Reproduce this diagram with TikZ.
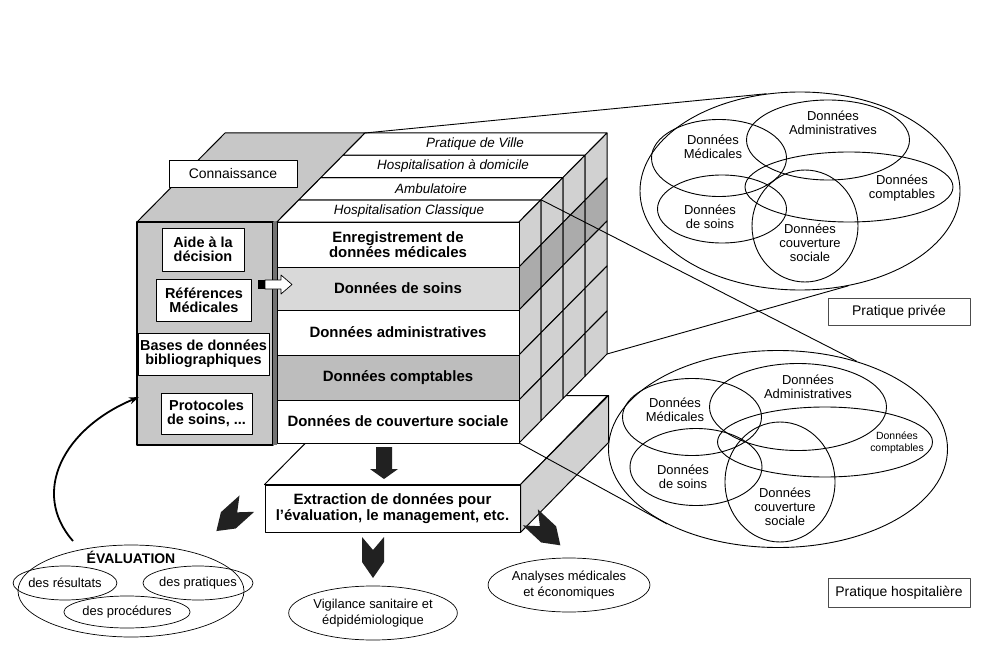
\documentclass[tikz,border=0pt]{standalone}
\usepackage{fontspec}
\setmainfont{Liberation Sans}
\usetikzlibrary{shapes.geometric,arrows.meta}

\definecolor{panelgray}{gray}{0.78}
\definecolor{soinsgray}{gray}{0.85}
\definecolor{comptgray}{gray}{0.74}
\definecolor{sidegray}{gray}{0.82}
\definecolor{sidedark}{gray}{0.67}
\definecolor{arrowdark}{gray}{0.13}

\tikzset{
  rowbox/.style={draw,line width=1bp,minimum width=242bp,inner sep=0pt,align=center,
    font=\fontsize{15}{15.5}\selectfont\bfseries},
  knowbox/.style={draw,line width=0.8bp,fill=white,inner sep=0pt,align=center,
    font=\fontsize{14.5}{14.5}\selectfont\bfseries},
  slabel/.style={inner sep=0pt,font=\fontsize{13.5}{14}\selectfont\itshape},
  venn/.style={draw,ellipse,inner sep=0pt,line width=0.9bp},
  venntxt/.style={inner sep=0pt,align=center,font=\fontsize{13}{14}\selectfont},
  tagbox/.style={draw=black!70,line width=0.8bp,fill=white,inner sep=0pt,font=\fontsize{14}{14}\selectfont},
  outcome/.style={draw,ellipse,inner sep=0pt,line width=0.7bp},
  outtxt/.style={inner sep=0pt,align=center,font=\fontsize{13}{16}\selectfont},
  chevron/.pic={\fill[arrowdark] (-11,-20) -- (0,-7) -- (11,-20) -- (11,5) -- (0,21) -- (-11,5) -- cycle;},
}

\begin{document}
\begin{tikzpicture}[x=1bp,y=-1bp,line join=round]
  % frame in pixels of the reference, y grows downwards
  \useasboundingbox (0,0) rectangle (1000,666);
  % helper grid: comment for final drawing
  % \draw[help lines,step=50] (0,0) grid (1000,666);

  % extraction slab (under the cube)
  \node[rowbox,fill=white,minimum width=255bp,minimum height=47bp] (extr) at (392.5,508.5)
    {Extraction de données pour\\l’évaluation, le management, etc.};
  \filldraw[fill=white,line width=1bp] (extr.north west) -- ++(88,-89) -- ++(255,0) -- (extr.north east) -- cycle;
  \filldraw[fill=sidegray,line width=1bp] (extr.north east) -- ++(88,-89) -- ++(0,47) -- (extr.south east) -- cycle;

  % knowledge panel
  \filldraw[fill=panelgray,line width=1bp] (137,222) -- (225,133) -- (365,133) -- (277,222) -- cycle;
  \node[draw,fill=panelgray,line width=1.2bp,minimum width=136bp,minimum height=223bp,inner sep=0pt] (panel) at (205,333.5) {};
  \fill[black!55] (273,222) rectangle (277,445);
  \node[tagbox,draw=black,minimum width=128bp,minimum height=27bp] (conn) at (233,173.5) {Connaissance};
  \node[knowbox,minimum width=82bp,minimum height=43bp] (aide) at (203,249.5) {Aide à la\\décision};
  \node[knowbox,minimum width=95bp,minimum height=42bp] (refs) at (204,300) {Références\\Médicales};
  \node[knowbox,minimum width=131bp,minimum height=42bp] (biblio) at (203.5,354) {Bases de données\\bibliographiques};
  \node[knowbox,minimum width=91bp,minimum height=41bp] (proto) at (206.5,413.5) {Protocoles\\de soins, ...};

  % slices on top of the cube
  \foreach \j/\slice in {0/Hospitalisation Classique,1/Ambulatoire,2/Hospitalisation à domicile,3/Pratique de Ville}{
    \filldraw[fill=white,line width=1bp] ({277+22*\j},{222-22.25*\j}) -- ({519+22*\j},{222-22.25*\j})
      -- ({541+22*\j},{222-22.25*(\j+1)}) -- ({299+22*\j},{222-22.25*(\j+1)}) -- cycle;
    \node[slabel] (slice\j) at ({409+22*\j},{222-22.25*(\j+0.5)}) {\slice};
  }

  % right face of the cube
  \foreach \yt/\yb/\tone in {222/267/sidegray,267/310/sidedark,310/355/sidegray,355/400/sidegray,400/443/sidegray}
    \foreach \i in {0,...,3}
      \filldraw[fill=\tone,line width=1bp] ({519+22*\i},{\yt-22.25*\i}) -- ({541+22*\i},{\yt-22.25*(\i+1)})
        -- ({541+22*\i},{\yb-22.25*(\i+1)}) -- ({519+22*\i},{\yb-22.25*\i}) -- cycle;

  % front face of the cube
  \node[rowbox,fill=white,minimum height=45bp] (enreg) at (398,244.5) {Enregistrement de\\données médicales};
  \node[rowbox,fill=soinsgray,minimum height=43bp] (soins) at (398,288.5) {Données de soins};
  \node[rowbox,fill=white,minimum height=45bp] (admin) at (398,332.5) {Données administratives};
  \node[rowbox,fill=comptgray,minimum height=45bp] (compt) at (398,377.5) {Données comptables};
  \node[rowbox,fill=white,minimum height=43bp] (couv) at (398,421.5) {Données de couverture sociale};

  \coordinate (backleft) at (365,133);
  \coordinate (slicecorner) at (541,199.75);
  \coordinate (backbottom) at (607,354);
  \coordinate (frontbottom) at (519,443);

  % link panel -> care data
  \fill (258,280) rectangle (265,289);
  \filldraw[fill=white,line width=0.7bp] (265,280) -- (281,280) -- (281,275) -- (292,284.5) -- (281,294) -- (281,289) -- (265,289) -- cycle;

  % block arrows
  \fill[arrowdark] (376,447) -- (392,447) -- (392,469) -- (398,469) -- (384,479) -- (370,469) -- (376,469) -- cycle;
  \pic[rotate=-48] at (232,517) {chevron};
  \pic at (373,557) {chevron};
  \pic[rotate=47] at (545,531) {chevron};

  % private practice
  \node[venn,minimum width=320bp,minimum height=198bp] (priv) at (800,191) {};
  \node[venn,minimum width=135bp,minimum height=77bp] (privmed) at (719,158) {};
  \node[venn,minimum width=163bp,minimum height=80bp] (privadm) at (828,140) {};
  \node[venn,minimum width=208bp,minimum height=70bp] (privcpt) at (849,187) {};
  \node[venn,minimum width=129bp,minimum height=68bp] (privsoin) at (722,209) {};
  \node[venn,minimum width=106bp,minimum height=112bp] (privcouv) at (805,226) {};
  \node[venntxt] (privmedtxt) at (713,147) {Données\\Médicales};
  \node[venntxt] (privadmtxt) at (833,123) {Données\\Administratives};
  \node[venntxt] (privcpttxt) at (902,188) {Données\\comptables};
  \node[venntxt] (privsointxt) at (710,217) {Données\\de soins};
  \node[venntxt] (privcouvtxt) at (810,243) {Données\\couverture\\sociale};
  \node[tagbox,minimum width=142bp,minimum height=27bp] (privtag) at (899,311.5) {Pratique privée};

  % hospital practice
  \node[venn,minimum width=339bp,minimum height=197bp] (hosp) at (778,449) {};
  \node[venn,minimum width=139bp,minimum height=77bp] (hospmed) at (692,417) {};
  \node[venn,minimum width=177bp,minimum height=87bp] (hospadm) at (798,407) {};
  \node[venn,minimum width=215bp,minimum height=70bp] (hospcpt) at (825,442) {};
  \node[venn,minimum width=132bp,minimum height=77bp] (hospsoin) at (696,467) {};
  \node[venn,minimum width=110bp,minimum height=120bp] (hospcouv) at (780,482) {};
  \node[venntxt] (hospmedtxt) at (675,410) {Données\\Médicales};
  \node[venntxt] (hospadmtxt) at (808,387) {Données\\Administratives};
  \node[venntxt,font=\fontsize{10.5}{12}\selectfont] (hospcpttxt) at (897,443) {Données\\comptables};
  \node[venntxt] (hospsointxt) at (683,477) {Données\\de soins};
  \node[venntxt] (hospcouvtxt) at (785,507) {Données\\couverture\\sociale};
  \node[tagbox,minimum width=142bp,minimum height=29bp] (hosptag) at (899,592.5) {Pratique hospitalière};

  % zoom lines
  \draw[line width=0.9bp] (backleft) -- (priv.109);
  \draw[line width=0.9bp] (backbottom) -- (priv.297);
  \draw[line width=0.9bp] (slicecorner) -- (hosp.48);
  \draw[line width=0.9bp] (frontbottom) -- (hosp.214);

  % uses of the data
  \node[outcome,minimum width=226bp,minimum height=92bp] (eval) at (131,591) {};
  \node[inner sep=0pt,font=\fontsize{14}{14}\selectfont\bfseries] (evaltitle) at (131,557) {ÉVALUATION};
  \node[outcome,outtxt,minimum width=86bp,minimum height=34bp] (evres) at (65,583) {des résultats};
  \node[outcome,outtxt,minimum width=87bp,minimum height=34bp] (evprat) at (198,583) {des pratiques};
  \node[outcome,outtxt,minimum width=96bp,minimum height=32bp] (evproc) at (127,612) {des procédures};
  \node[outcome,outtxt,minimum width=148bp,minimum height=54bp] (vigil) at (373,613) {Vigilance sanitaire et\\édpidémiologique};
  \node[outcome,outtxt,minimum width=150bp,minimum height=54bp] (analy) at (569,585) {Analyses médicales\\et économiques};

  % feedback to knowledge
  \coordinate (loopstart) at (73,541);
  \coordinate (loopend) at (139,397);
  \draw[line width=1.8bp,-{Stealth[length=10bp,width=7bp]}] (loopstart) .. controls (30,492) and (64,428) .. (loopend);
\end{tikzpicture}
\end{document}
